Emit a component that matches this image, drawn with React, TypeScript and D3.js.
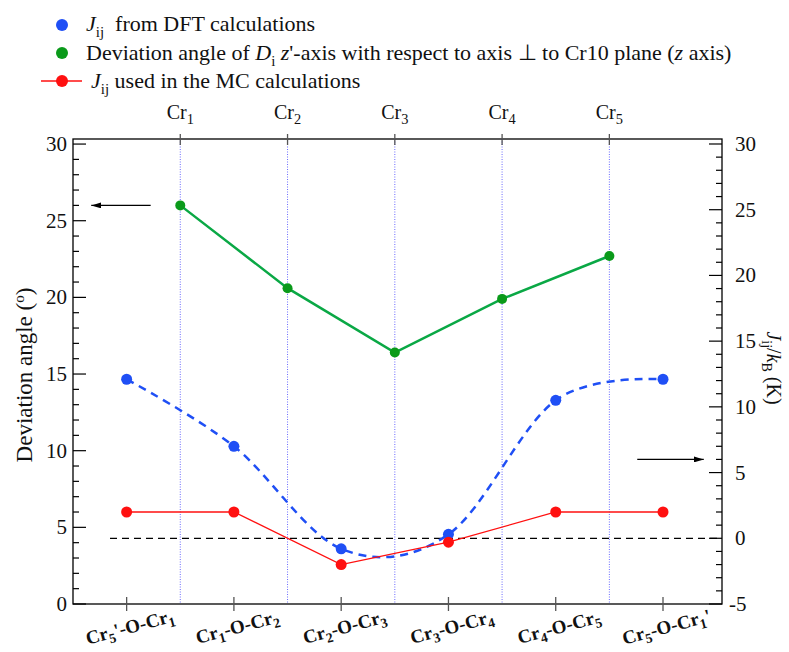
import React from "react";
import * as d3 from "d3";

const bottomLabels = ["Cr5'-O-Cr1", "Cr1-O-Cr2", "Cr2-O-Cr3", "Cr3-O-Cr4", "Cr4-O-Cr5", "Cr5-O-Cr1'"];
const topLabels = ["Cr1", "Cr2", "Cr3", "Cr4", "Cr5"];
const topPositions = [0.5, 1.5, 2.5, 3.5, 4.5];
const deviationAngle = [26.0, 20.6, 16.4, 19.9, 22.7];
const jDft = [12.1, 7.0, -0.8, 0.3, 10.5, 12.1];
const jMc = [2.0, 2.0, -2.0, -0.3, 2.0, 2.0];
const leftTicks = [0, 5, 10, 15, 20, 25, 30];
const rightTicks = [-5, 0, 5, 10, 15, 20, 25, 30];
const leftArrow = { from: 0.224, to: -0.33, value: 26 };
const rightArrow = { from: 4.76, to: 5.38, value: 6 };

const W = 789, H = 652;
const FONT = "Liberation Serif";
const TS: React.CSSProperties = { fontFamily: FONT };
const L = 73, R = 722, T = 139, B = 604;

const x = d3.scaleLinear().domain([-0.5, 5.55]).range([L, R]);
const yL = d3.scaleLinear().domain([0, 30.33]).range([B, T]);
const yR = d3.scaleLinear().domain([-5, 30.38]).range([B, T]);

const BLUE = "#1f4ff5";
const GREEN_LINE = "#0aa845";
const GREEN_DOT = "#0a9a1a";
const RED = "#ff1010";

// render label like "Cr5'-O-Cr1" with subscript digits
function crText(s: string, size: number, keyBase: string) {
  const tokens: { t: string; sub: boolean }[] = [];
  let buf = "";
  for (const ch of s) {
    if (/\d/.test(ch)) {
      if (buf) tokens.push({ t: buf, sub: false });
      buf = "";
      tokens.push({ t: ch, sub: true });
    } else buf += ch;
  }
  if (buf) tokens.push({ t: buf, sub: false });
  const sub = size * 0.72;
  const shift = size * 0.25;
  let cur = 0;
  return tokens.map((tk, k) => {
    const target = tk.sub ? shift : 0;
    const dy = target - cur;
    cur = target;
    return (
      <tspan key={keyBase + k} style={TS} fontSize={tk.sub ? sub : undefined} dy={dy !== 0 ? dy : undefined}>
        {tk.t}
      </tspan>
    );
  });
}

export default function App() {
  const minorL = d3.range(0, 31, 1).filter((v) => v % 5 !== 0);
  const minorR = d3.range(-5, 31, 1).filter((v) => v % 5 !== 0);
  const blueLine = d3
    .line<number>()
    .x((_, i) => x(i))
    .y((d) => yR(d))
    .curve(d3.curveCatmullRom.alpha(0))(jDft) as string;
  const redLine = d3
    .line<number>()
    .x((_, i) => x(i))
    .y((d) => yR(d))(jMc) as string;
  const greenLine = d3
    .line<number>()
    .x((_, i) => x(topPositions[i]))
    .y((d) => yL(d))(deviationAngle) as string;

  const ls = 22; // legend font size
  const lsub = ls * 0.68;
  const lsh = ls * 0.28;

  return (
    <svg
      width={W}
      height={H}
      style={{ position: "absolute", left: 0, top: 0, background: "#fff", fontFamily: FONT }}
    >
      <defs>
        <marker id="ah" viewBox="0 0 10 6" refX="10" refY="3" markerWidth="10" markerHeight="6" markerUnits="userSpaceOnUse" orient="auto">
          <path d="M0,0 L10,3 L0,6 Z" fill="#000" />
        </marker>
      </defs>
      {/* Legend */}
      <circle cx={62} cy={25} r={6} fill={BLUE} />
      <text x={86} y={31} fontSize={ls} fill="#111" style={TS}>
        <tspan fontStyle="italic" style={TS}>J</tspan>
        <tspan fontSize={lsub} dy={lsh} style={TS}>ij</tspan>
        <tspan dy={-lsh} style={TS}>{"\u00A0 from DFT calculations"}</tspan>
      </text>
      <circle cx={62} cy={53} r={6} fill={GREEN_DOT} />
      <text x={86} y={59.5} fontSize={ls} fill="#111" style={TS}>
        <tspan style={TS}>{"Deviation angle of "}</tspan>
        <tspan fontStyle="italic" style={TS}>D</tspan>
        <tspan fontSize={lsub} dy={lsh} style={TS}>i</tspan>
        <tspan dy={-lsh} style={TS}>{"\u00A0"}</tspan>
        <tspan fontStyle="italic" style={TS}>z</tspan>
        <tspan style={TS}>{"'-axis with respect to axis \u22A5 to Cr10 plane ("}</tspan>
        <tspan fontStyle="italic" style={TS}>z</tspan>
        <tspan style={TS}>{" axis)"}</tspan>
      </text>
      <line x1={41} x2={82} y1={81} y2={81} stroke={RED} strokeWidth={1.3} />
      <circle cx={62} cy={81} r={6} fill={RED} />
      <text x={91} y={88} fontSize={ls} fill="#111" style={TS}>
        <tspan fontStyle="italic" style={TS}>J</tspan>
        <tspan fontSize={lsub} dy={lsh} style={TS}>ij</tspan>
        <tspan dy={-lsh} style={TS}>{" used in the MC calculations"}</tspan>
      </text>

      {/* dotted vertical lines */}
      {topPositions.map((p, i) => (
        <line key={"v" + i} x1={x(p)} x2={x(p)} y1={T} y2={B} stroke="#6a6aff" strokeWidth={1} strokeDasharray="1,1.5" />
      ))}

      {/* frame */}
      <rect x={L} y={T} width={R - L} height={B - T} fill="none" stroke="#000" strokeWidth={1.3} />

      {/* left ticks */}
      {leftTicks.map((v) => (
        <g key={"lt" + v}>
          <line x1={L} x2={L + 13} y1={yL(v)} y2={yL(v)} stroke="#000" strokeWidth={1.2} />
          <text x={67} y={yL(v) + 7} fontSize={21} textAnchor="end" fill="#111" style={TS}>{v}</text>
        </g>
      ))}
      {minorL.map((v) => (
        <line key={"lm" + v} x1={L} x2={L + 6} y1={yL(v)} y2={yL(v)} stroke="#000" strokeWidth={1.2} />
      ))}
      {/* right ticks */}
      {rightTicks.map((v) => (
        <g key={"rt" + v}>
          <line x1={R} x2={R - 13} y1={yR(v)} y2={yR(v)} stroke="#000" strokeWidth={1.2} />
          <text x={v < 0 ? 729 : 735} y={yR(v) + 7} fontSize={21} textAnchor="start" fill="#111" style={TS}>{v}</text>
        </g>
      ))}
      {minorR.map((v) => (
        <line key={"rm" + v} x1={R} x2={R - 6} y1={yR(v)} y2={yR(v)} stroke="#000" strokeWidth={1.2} />
      ))}

      {/* top ticks and labels */}
      {topLabels.map((lab, i) => (
        <g key={"tt" + i}>
          <line x1={x(topPositions[i])} x2={x(topPositions[i])} y1={T - 5} y2={T + 6} stroke="#555" strokeWidth={1.3} />
          <text x={x(topPositions[i])} y={119} fontSize={20} textAnchor="middle" fill="#111" style={TS}>
            {crText(lab, 20, "t" + i)}
          </text>
        </g>
      ))}

      {/* bottom ticks and labels */}
      {bottomLabels.map((lab, i) => (
        <g key={"bt" + i}>
          <line x1={x(i)} x2={x(i)} y1={B - 7} y2={B + 7} stroke="#555" strokeWidth={1.3} />
          <text
            transform={`translate(${x(i) + 5},${633}) rotate(-15)`}
            fontSize={19}
            fontWeight="bold"
            textAnchor="middle"
            fill="#111"
            style={TS}
          >
            {crText(lab, 19, "b" + i)}
          </text>
        </g>
      ))}

      {/* zero dashed line */}
      <line x1={110} x2={R} y1={yR(0)} y2={yR(0)} stroke="#000" strokeWidth={1.2} strokeDasharray="7,5" />

      {/* arrows */}
      <line x1={x(leftArrow.from)} x2={x(leftArrow.to)} y1={yL(leftArrow.value)} y2={yL(leftArrow.value)} stroke="#000" strokeWidth={1.2} markerEnd="url(#ah)" />
      <line x1={x(rightArrow.from)} x2={x(rightArrow.to)} y1={yR(rightArrow.value)} y2={yR(rightArrow.value)} stroke="#000" strokeWidth={1.2} markerEnd="url(#ah)" />

      {/* series */}
      <path d={greenLine} fill="none" stroke={GREEN_LINE} strokeWidth={2.5} />
      {deviationAngle.map((v, i) => (
        <circle key={"g" + i} cx={x(topPositions[i])} cy={yL(v)} r={5} fill={GREEN_DOT} />
      ))}
      <path d={blueLine} fill="none" stroke={BLUE} strokeWidth={2.5} strokeDasharray="8,6" />
      {jDft.map((v, i) => (
        <circle key={"b" + i} cx={x(i)} cy={yR(v)} r={5.5} fill={BLUE} />
      ))}
      <path d={redLine} fill="none" stroke={RED} strokeWidth={1.3} />
      {jMc.map((v, i) => (
        <circle key={"r" + i} cx={x(i)} cy={yR(v)} r={5.5} fill={RED} />
      ))}

      {/* axis titles */}
      <text transform={`translate(32,375) rotate(-90)`} fontSize={23} textAnchor="middle" fill="#111" style={TS}>
        <tspan style={TS}>Deviation angle (</tspan>
        <tspan fontSize={15} dy={-8} style={TS}>o</tspan>
        <tspan dy={8} style={TS}>)</tspan>
      </text>
      <text transform={`translate(767,368) rotate(90)`} fontSize={20} textAnchor="middle" fill="#111" style={TS}>
        <tspan fontStyle="italic" style={TS}>J</tspan>
        <tspan fontSize={14} dy={5} style={TS}>ij</tspan>
        <tspan dy={-5} style={TS}>/</tspan>
        <tspan fontStyle="italic" style={TS}>k</tspan>
        <tspan fontSize={14} dy={5} style={TS}>B</tspan>
        <tspan dy={-5} style={TS}>{" (K)"}</tspan>
      </text>
    </svg>
  );
}
